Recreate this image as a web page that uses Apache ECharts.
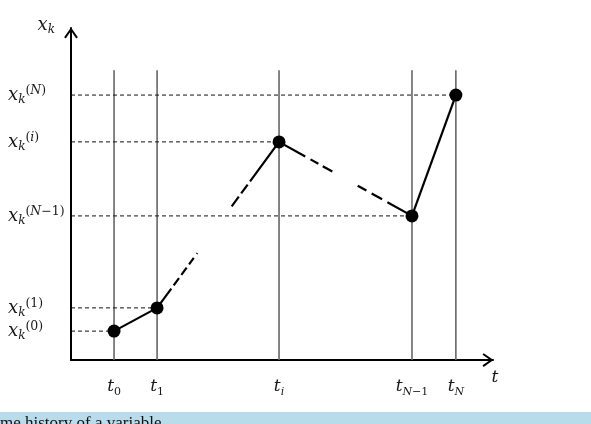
<!DOCTYPE html>
<html>
<head>
<meta charset="utf-8">
<script src="https://cdn.jsdelivr.net/npm/echarts@6/dist/echarts.min.js"></script>
<style>
  html, body { margin: 0; padding: 0; background: #fff; }
  #chart { width: 591px; height: 424px; }
</style>
</head>
<body>
<div id="chart"></div>
<script>
// schematic: time history of x_k
const tickNames = ['0', '1', 'i', 'N\u22121', 'N'];
const times = [10.2, 20.4, 49.3, 80.8, 91.2];
const values = [8.7, 15.7, 65.7, 43.4, 79.8];
const lineTop = 87.3;

// dash pattern of each segment between two points (pixels)
const segDash = [
  'solid',
  [24, 4, 9, 4, 9, 4, 8, 5, 1, 58, 12, 4, 11, 4, 60],
  [30, 6, 9, 5, 11, 29, 10, 6, 12, 6, 40],
  'solid'
];

const serif = '"DejaVu Serif", "Liberation Serif", serif';
const chevron = 'path://M0,10 L7,0 L14,10 L12.3,11.2 L7,3.4 L1.7,11.2 Z';

function nearest(arr, v) {
  let best = 0;
  arr.forEach((a, i) => { if (Math.abs(a - v) < Math.abs(arr[best] - v)) best = i; });
  return best;
}

// letters italic, digits and signs upright
function mathTokens(s, it, up) {
  return s.split(/([A-Za-z]+)/).filter(Boolean)
    .map((p) => '{' + (/[A-Za-z]/.test(p) ? it : up) + '|' + p + '}').join('');
}

const ink = '#1a1a1a';
const richText = {
  x: { fontFamily: serif, fontStyle: 'italic', fontSize: 18, lineHeight: 22, color: ink, verticalAlign: 'middle' },
  k: { fontFamily: serif, fontStyle: 'italic', fontSize: 12, lineHeight: 12, color: ink, verticalAlign: 'bottom' },
  p: { fontFamily: serif, fontSize: 12.5, lineHeight: 10, color: ink, verticalAlign: 'top' },
  pi: { fontFamily: serif, fontStyle: 'italic', fontSize: 12.5, lineHeight: 10, color: ink, verticalAlign: 'top' }
};

function supLabel(name) {
  return '{x|x}{k|k}{p|(}' + mathTokens(name, 'pi', 'p') + '{p|)}';
}

const series = [];

// vertical time lines
times.forEach((t) => {
  series.push({
    type: 'line', silent: true, symbol: 'none', z: 1,
    data: [[t, 0], [t, lineTop]],
    lineStyle: { color: '#666', width: 1.6 }
  });
});

// horizontal dashed guides
times.forEach((t, i) => {
  series.push({
    type: 'line', silent: true, symbol: 'none', z: 1,
    data: [[0, values[i]], [t, values[i]]],
    lineStyle: { color: '#111', width: 1, type: [4, 3] }
  });
});

// segments of the history
for (let i = 0; i < times.length - 1; i++) {
  series.push({
    type: 'line', silent: true, symbol: 'none', z: 2,
    data: [[times[i], values[i]], [times[i + 1], values[i + 1]]],
    lineStyle: { color: '#000', width: 2.2, type: segDash[i] }
  });
}

series.push({
  type: 'scatter', silent: true, symbolSize: 13, z: 5,
  itemStyle: { color: '#000', opacity: 1 },
  data: times.map((t, i) => [t, values[i]])
});

const chart = echarts.init(document.getElementById('chart'));
chart.setOption({
  animation: false,
  grid: { left: 71, right: 98, top: 28, bottom: 64, outerBoundsMode: 'none', containLabel: false },
  xAxis: {
    type: 'value', min: 0, max: 100,
    name: '{t|t}',
    nameLocation: 'end', nameGap: 2,
    nameTextStyle: {
      align: 'center', verticalAlign: 'middle', padding: [36, 0, 0, 0],
      rich: { t: { fontFamily: serif, fontStyle: 'italic', fontSize: 17, color: ink } }
    },
    axisLine: {
      lineStyle: { color: '#000', width: 2 },
      symbol: ['none', chevron], symbolSize: [14, 11], symbolOffset: [0, -5]
    },
    axisTick: { show: false },
    splitLine: { show: false },
    axisLabel: {
      customValues: times,
      margin: 16,
      hideOverlap: false,
      formatter: (v) => '{t|t}' + mathTokens(tickNames[nearest(times, v)], 'si', 's'),
      rich: {
        t: { fontFamily: serif, fontStyle: 'italic', fontSize: 17, lineHeight: 22, color: ink, verticalAlign: 'middle' },
        s: { fontFamily: serif, fontSize: 11, lineHeight: 14, color: ink, verticalAlign: 'bottom' },
        si: { fontFamily: serif, fontStyle: 'italic', fontSize: 11, lineHeight: 14, color: ink, verticalAlign: 'bottom' }
      }
    }
  },
  yAxis: {
    type: 'value', min: 0, max: 100,
    name: '{x|x}{k|k}',
    nameLocation: 'end', nameGap: 3,
    nameTextStyle: {
      align: 'right', verticalAlign: 'middle', padding: [0, 16, 0, 0],
      rich: richText
    },
    axisLine: {
      lineStyle: { color: '#000', width: 2 },
      symbol: ['none', chevron], symbolSize: [14, 11], symbolOffset: [0, -5]
    },
    axisTick: { show: false },
    splitLine: { show: false },
    axisLabel: {
      customValues: values,
      margin: 63,
      align: 'left',
      hideOverlap: false,
      formatter: (v) => supLabel(tickNames[nearest(values, v)]),
      rich: richText
    }
  },
  graphic: [
    {
      type: 'rect', left: 0, top: 412, silent: true,
      shape: { width: 591, height: 12 },
      style: { fill: '#b8dcea' }
    },
    {
      type: 'text', left: 0, top: 415, silent: true,
      style: { text: 'me history of a variable', font: '17px "Liberation Serif", serif', fill: '#111' }
    }
  ],
  series: series
});
</script>
</body>
</html>
